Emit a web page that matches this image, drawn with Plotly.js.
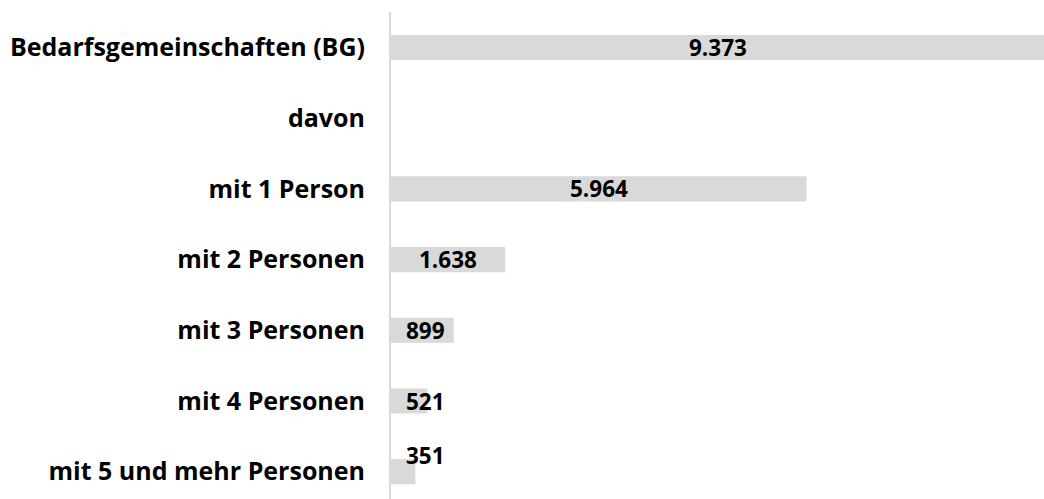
<!DOCTYPE html>
<html>
<head>
<meta charset="utf-8">
<script src="https://cdn.plot.ly/plotly-3.0.1.min.js"></script>
<style>
html,body{margin:0;padding:0;background:#fff;overflow:hidden;}
#chart{width:1044px;height:499px;}
</style>
</head>
<body>
<div id="chart"></div>
<script>
const categories = [
  "Bedarfsgemeinschaften (BG)",
  "davon",
  "mit 1 Person",
  "mit 2 Personen",
  "mit 3 Personen",
  "mit 4 Personen",
  "mit 5 und mehr Personen"
];
const values = [9373, null, 5964, 1638, 899, 521, 351];

function fmt(v){ return String(v).replace(/\B(?=(\d{3})+(?!\d))/g, "."); }

const trace = {
  type: "bar",
  orientation: "h",
  x: values,
  y: categories,
  width: 0.355,
  marker: {color: "#d9d9d9"},
  hoverinfo: "none"
};

const annotations = [];
values.forEach((v, i) => {
  if (v === null) return;
  const small = v < 1000;
  annotations.push({
    x: small ? 0 : v / 2,
    y: categories[i],
    xref: "x", yref: "y",
    text: fmt(v),
    showarrow: false,
    xanchor: small ? "left" : "center",
    xshift: small ? 13 : 0,
    yshift: v < 500 ? 16 : 0,
    font: {family: "Open Sans, sans-serif", size: 22.5, color: "#000", weight: 700}
  });
});

const layout = {
  width: 1044, height: 499,
  margin: {l: 391, r: 0, t: 12, b: 0, pad: 0},
  paper_bgcolor: "#fff", plot_bgcolor: "#fff",
  showlegend: false,
  xaxis: {range: [0, 9373], visible: false, fixedrange: true},
  yaxis: {
    type: "category",
    range: [6.386, -0.502],
    showline: true, linecolor: "#d9d9d9", linewidth: 2,
    showgrid: false, zeroline: false, ticks: "",
    ticklabelstandoff: 19,
    tickfont: {family: "Open Sans, sans-serif", size: 25, color: "#000", weight: 700},
    fixedrange: true
  },
  annotations: annotations
};

Plotly.newPlot("chart", [trace], layout, {displayModeBar: false, staticPlot: true});
</script>
</body>
</html>
